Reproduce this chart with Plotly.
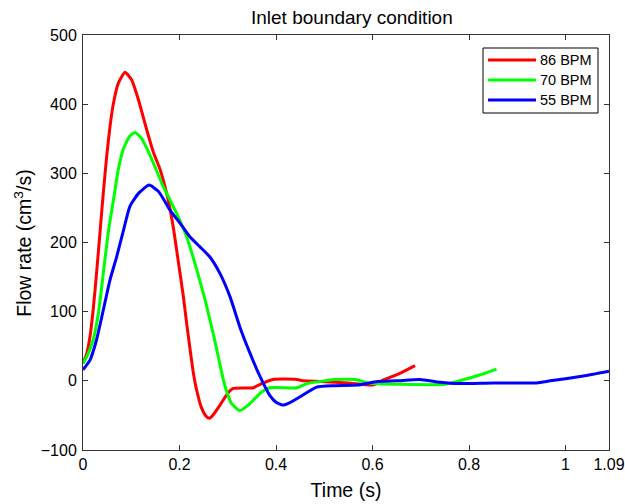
import plotly.graph_objects as go

# 86 BPM
t_86 = [0.0, 0.008, 0.0145, 0.021, 0.028, 0.035, 0.042, 0.049, 0.056, 0.063, 0.073, 0.087,
        0.101, 0.115, 0.132, 0.146, 0.160, 0.178, 0.188, 0.198, 0.208, 0.215, 0.222, 0.229,
        0.236, 0.245, 0.255, 0.262, 0.270, 0.284, 0.300, 0.311, 0.353, 0.367, 0.394, 0.443,
        0.457, 0.491, 0.55, 0.60, 0.625, 0.66, 0.688]
v_86 = [25, 40, 64, 102, 155, 213, 271, 324, 368, 401, 430, 446,
        435, 406, 363, 330, 305, 257, 218, 170, 122, 82, 45, 10,
        -15, -38, -51, -54, -49, -35, -18, -11, -10, -5, 2, 2,
        0, -1, -3, -6, 2, 12, 22]

# 70 BPM
t_70 = [0.0, 0.008, 0.021, 0.032, 0.042, 0.052, 0.063, 0.073, 0.084, 0.097, 0.108, 0.121,
        0.139, 0.156, 0.166, 0.180, 0.194, 0.215, 0.236, 0.253, 0.263, 0.270, 0.280, 0.291,
        0.300, 0.308, 0.325, 0.346, 0.367, 0.387, 0.443, 0.464, 0.491, 0.52, 0.565,
        0.59, 0.66, 0.75, 0.78, 0.82, 0.857]
v_70 = [25, 35, 59, 98, 155, 213, 261, 305, 336, 354, 359, 351,
        326, 298, 281, 262, 242, 208, 160, 117, 88, 68, 36, 1,
        -20, -33, -43, -33, -18, -10, -10, -4, -1, 2, 2,
        -3, -5, -5, 0, 8, 17]

# 55 BPM
t_55 = [0.0, 0.0145, 0.028, 0.042, 0.056, 0.070, 0.084, 0.097, 0.115, 0.137, 0.156, 0.170,
        0.180, 0.201, 0.222, 0.242, 0.263, 0.284, 0.305, 0.325, 0.346, 0.367, 0.387, 0.400,
        0.414, 0.430, 0.450, 0.484, 0.52, 0.57, 0.61, 0.65, 0.698, 0.74, 0.78, 0.85, 0.94,
        0.968, 1.0, 1.037, 1.09]
v_55 = [16, 30, 59, 102, 146, 180, 218, 252, 271, 283, 274, 259,
        247, 228, 208, 194, 179, 155, 121, 78, 40, 6, -21, -31,
        -35, -31, -23, -9, -7, -6, -1, 0, 2, -2, -4, -3, -3,
        0, 3, 7, 14]

x_tickvals = [0, 0.2, 0.4, 0.6, 0.8, 1, 1.09]
x_ticktext = ["0", "0.2", "0.4", "0.6", "0.8", "1", "1.09"]
y_tickvals = [-100, 0, 100, 200, 300, 400, 500]

series = [("86 BPM", t_86, v_86, "#ff0000"),
          ("70 BPM", t_70, v_70, "#00ff00"),
          ("55 BPM", t_55, v_55, "#0000ff")]

W, H = 625, 504
ML, MR, MT, MB = 83, 16, 35, 54
PW, PH = W - ML - MR, H - MT - MB


def px(fx):
    return (fx - ML) / PW


def py(fy):
    return (H - MB - fy) / PH


fig = go.Figure()
for name, t, v, c in series:
    fig.add_trace(go.Scatter(x=t, y=v, mode="lines", name=name, showlegend=False,
                             line=dict(color=c, width=3, shape="spline", smoothing=0.5)))

# legend box drawn MATLAB-style
shapes = [dict(type="rect", xref="paper", yref="paper",
               x0=px(483), x1=px(598), y0=py(113), y1=py(48),
               line=dict(color="black", width=1), fillcolor="white", layer="above")]
annotations = []
for i, (name, t, v, c) in enumerate(series):
    fy = 60 + 20 * i
    shapes.append(dict(type="line", xref="paper", yref="paper",
                       x0=px(488), x1=px(536), y0=py(fy), y1=py(fy),
                       line=dict(color=c, width=3), layer="above"))
    annotations.append(dict(text=name, xref="paper", yref="paper", x=px(538), y=py(fy),
                            xanchor="left", yanchor="middle", showarrow=False,
                            font=dict(size=14.5, color="black")))

# y-axis title (MATLAB position)
annotations.append(dict(text="Flow rate (cm<sup>3</sup>/s)", xref="paper", yref="paper",
                        x=px(23), y=0.497, xanchor="center", yanchor="middle",
                        textangle=-90, showarrow=False, font=dict(size=19.5, color="black")))

font = "Liberation Sans, Arial, sans-serif"
axis_common = dict(ticks="inside", ticklen=5, tickcolor="#333", mirror="ticks",
                   showline=True, linecolor="#333", linewidth=1, showgrid=False,
                   zeroline=False, automargin=False, tickfont=dict(size=16))
fig.update_layout(
    width=W, height=H,
    margin=dict(l=ML, r=MR, t=MT, b=MB),
    paper_bgcolor="white", plot_bgcolor="white",
    font=dict(family=font, size=14, color="black"),
    title=dict(text="Inlet boundary condition", x=0.563, xanchor="center",
               yref="container", y=1 - 11 / H, yanchor="top", font=dict(size=19)),
    xaxis=dict(range=[0, 1.09], tickvals=x_tickvals, ticktext=x_ticktext,
               title=dict(text="Time (s)", font=dict(size=19.5), standoff=11),
               **axis_common),
    yaxis=dict(range=[-100, 500], tickvals=y_tickvals, ticklabelstandoff=2,
               **axis_common),
    shapes=shapes,
    annotations=annotations,
    showlegend=False,
)

fig.write_html("out.html", config={"displayModeBar": False},
               post_script="document.body.style.margin='0';document.body.style.overflow='hidden';")
